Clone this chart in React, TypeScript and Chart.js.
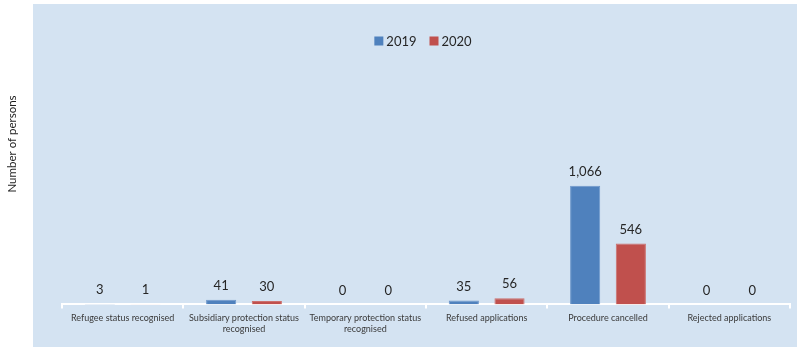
import React, { useEffect, useRef } from "react";
import { Chart, registerables } from "chart.js";

Chart.register(...registerables);

const categories: (string | string[])[] = [
  "Refugee status recognised",
  ["Subsidiary protection status", "recognised"],
  ["Temporary protection status", "recognised"],
  "Refused applications",
  "Procedure cancelled",
  "Rejected applications",
];
const series2019 = [3, 41, 0, 35, 1066, 0];
const series2020 = [1, 30, 0, 56, 546, 0];
const seriesNames = ["2019", "2020"];
const seriesColors = ["#4F81BD", "#C0504D"];
const yAxisTitle = "Number of persons";

const FONT = "Lato, 'Open Sans', sans-serif";

const labelPlugin = {
  id: "customDraw",
  afterDatasetsDraw(chart: any) {
    const ctx = chart.ctx;
    ctx.save();
    ctx.fillStyle = "#262626";
    ctx.font = `13px ${FONT}`;
    ctx.textAlign = "center";
    ctx.textBaseline = "middle";
    chart.data.datasets.forEach((ds: any, i: number) => {
      const meta = chart.getDatasetMeta(i);
      meta.data.forEach((el: any, j: number) => {
        const v = ds.data[j];
        ctx.fillText(Number(v).toLocaleString("en-US"), el.x, el.y - 14);
      });
    });
    ctx.restore();
  },
  afterDraw(chart: any) {
    const ctx = chart.ctx;
    const area = chart.chartArea;
    ctx.save();
    // y-axis title
    ctx.translate(12, 144);
    ctx.rotate(-Math.PI / 2);
    ctx.font = `11.5px ${FONT}`;
    ctx.fillStyle = "#1F1F1F";
    ctx.textAlign = "center";
    ctx.textBaseline = "middle";
    ctx.fillText(yAxisTitle, 0, 0);
    ctx.restore();

    // legend
    ctx.save();
    ctx.font = `13px ${FONT}`;
    ctx.textBaseline = "middle";
    ctx.textAlign = "left";
    const box = 9;
    const gap = 3;
    const itemGap = 13;
    const widths = chart.data.datasets.map(
      (ds: any) => box + gap + ctx.measureText(ds.label).width
    );
    const total =
      widths.reduce((a: number, b: number) => a + b, 0) +
      itemGap * (widths.length - 1);
    let x = (area.left + area.right) / 2 - 3 - total / 2;
    const cy = 41;
    chart.data.datasets.forEach((ds: any, i: number) => {
      ctx.fillStyle = ds.backgroundColor;
      ctx.fillRect(x, cy - box / 2, box, box);
      ctx.fillStyle = "#262626";
      ctx.fillText(ds.label, x + box + gap, cy + 1);
      x += widths[i] + itemGap;
    });
    ctx.restore();
  },
};

export default function App() {
  const ref = useRef<HTMLCanvasElement | null>(null);

  useEffect(() => {
    if (!ref.current) return;
    const chart = new Chart(ref.current, {
      type: "bar",
      data: {
        labels: categories,
        datasets: [
          {
            label: seriesNames[0],
            data: series2019,
            backgroundColor: seriesColors[0],
            borderColor: "#6E97CB",
            borderWidth: 1,
          },
          {
            label: seriesNames[1],
            data: series2020,
            backgroundColor: seriesColors[1],
            borderColor: "#CC6F6C",
            borderWidth: 1,
          },
        ],
      },
      options: {
        responsive: false,
        animation: false,
        devicePixelRatio: 1,
        layout: { padding: { left: 62, right: 7, top: 60, bottom: 9 } },
        datasets: {
          bar: { categoryPercentage: 0.753, barPercentage: 0.66 },
        },
        plugins: {
          legend: { display: false },
          tooltip: { enabled: false },
        },
        scales: {
          x: {
            grid: {
              display: true,
              drawOnChartArea: false,
              drawTicks: true,
              tickLength: 4,
              color: "#FFFFFF",
              lineWidth: 2,
              offset: true,
            },
            border: { display: true, color: "#FFFFFF", width: 2 },
            ticks: {
              color: "#3A3A3A",
              font: { family: FONT, size: 9 },
              padding: 4,
              maxRotation: 0,
              autoSkip: false,
            },
          },
          y: {
            display: false,
            min: 0,
            max: 2195,
          },
        },
      },
      plugins: [labelPlugin],
    });
    return () => chart.destroy();
  }, []);

  return (
    <div style={{ position: "absolute", left: 0, top: 0, width: 797, height: 347, overflow: "hidden", background: "#FFFFFF" }}>
      <div
        style={{
          position: "absolute",
          left: 33,
          top: 4,
          width: 780,
          height: 343,
          background: "#D4E3F2",
          borderTopRightRadius: 12,
        }}
      />
      <canvas
        ref={ref}
        width={797}
        height={347}
        style={{ position: "absolute", left: 0, top: 0, width: 797, height: 347 }}
      />
    </div>
  );
}
